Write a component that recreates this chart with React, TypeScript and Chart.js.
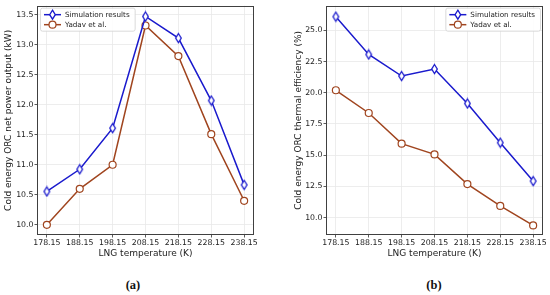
import React, { useEffect, useRef } from 'react';
import { Chart, registerables } from 'chart.js';

Chart.register(...registerables);

const temperatures = [178.15, 188.15, 198.15, 208.15, 218.15, 228.15, 238.15];
const powerSimulation = [10.555, 10.925, 11.61, 13.47, 13.11, 12.07, 10.665];
const powerYadav = [10.0, 10.6, 11.0, 13.32, 12.81, 11.51, 10.4];
const effSimulation = [26.1, 23.07, 21.34, 21.9, 19.14, 16.0, 12.92];
const effYadav = [20.2, 18.38, 15.92, 15.06, 12.68, 10.93, 9.37];
const powerTicks = [10.0, 10.5, 11.0, 11.5, 12.0, 12.5, 13.0, 13.5];
const effTicks = [10.0, 12.5, 15.0, 17.5, 20.0, 22.5, 25.0];
const seriesNames = ['Simulation results', 'Yadav et al.'];
const xTitle = 'LNG temperature (K)';
const powerTitle = 'Cold energy ORC net power output (kW)';
const effTitle = 'Cold energy ORC thermal efficiency (%)';

const BLUE = '#1a1acd';
const BROWN = '#a0451f';
const FONT = "'DejaVu Sans', sans-serif";

function drawDiamond(ctx: CanvasRenderingContext2D, x: number, y: number) {
  ctx.beginPath();
  ctx.moveTo(x, y - 4.5);
  ctx.lineTo(x + 2.8, y);
  ctx.lineTo(x, y + 4.5);
  ctx.lineTo(x - 2.8, y);
  ctx.closePath();
  ctx.fillStyle = '#ffffff';
  ctx.fill();
  ctx.strokeStyle = BLUE;
  ctx.lineWidth = 1.3;
  ctx.stroke();
}

function drawCircle(ctx: CanvasRenderingContext2D, x: number, y: number) {
  ctx.beginPath();
  ctx.arc(x, y, 3.5, 0, Math.PI * 2);
  ctx.fillStyle = '#ffffff';
  ctx.fill();
  ctx.strokeStyle = BROWN;
  ctx.lineWidth = 1.2;
  ctx.stroke();
}

function makeDiamondImage() {
  const c = document.createElement('canvas');
  c.width = 9;
  c.height = 12;
  const ctx = c.getContext('2d')!;
  drawDiamond(ctx, 4.5, 6);
  return c;
}

const framePlugin = {
  id: 'frame',
  afterDatasetsDraw(chart: any) {
    const { ctx, chartArea } = chart;
    ctx.save();
    ctx.strokeStyle = '#404040';
    ctx.lineWidth = 1;
    ctx.strokeRect(
      Math.round(chartArea.left) + 0.5,
      Math.round(chartArea.top) + 0.5,
      Math.round(chartArea.right - chartArea.left) - 1,
      Math.round(chartArea.bottom - chartArea.top) - 1
    );
    ctx.restore();
  },
};

const legendPlugin = {
  id: 'customLegend',
  afterDraw(chart: any, _args: any, opts: any) {
    const { ctx, chartArea } = chart;
    ctx.save();
    ctx.font = `7.2px ${FONT}`;
    const tw = Math.max(...seriesNames.map((n) => ctx.measureText(n).width));
    const w = 4 + 17 + 4 + tw + 5;
    const h = 23;
    const top = chartArea.top + 2;
    const left = opts.side === 'left' ? chartArea.left + 3 : chartArea.right - 3 - w;
    ctx.fillStyle = 'rgba(255,255,255,0.85)';
    ctx.strokeStyle = '#d0d0d0';
    ctx.lineWidth = 0.8;
    ctx.beginPath();
    (ctx as any).roundRect(left + 0.5, top + 0.5, w, h, 2);
    ctx.fill();
    ctx.stroke();
    const colors = [BLUE, BROWN];
    seriesNames.forEach((name, i) => {
      const cy = top + 7 + i * 10;
      const lx = left + 4;
      ctx.strokeStyle = colors[i];
      ctx.lineWidth = 1.5;
      ctx.beginPath();
      ctx.moveTo(lx, cy);
      ctx.lineTo(lx + 17, cy);
      ctx.stroke();
      if (i === 0) drawDiamond(ctx, lx + 8.5, cy);
      else drawCircle(ctx, lx + 8.5, cy);
      ctx.fillStyle = '#222';
      ctx.textBaseline = 'middle';
      ctx.textAlign = 'left';
      ctx.fillText(name, lx + 21, cy + 0.5);
    });
    ctx.restore();
  },
};

interface PanelProps {
  sim: number[];
  yadav: number[];
  yTicks: number[];
  yMin: number;
  yMax: number;
  yTitle: string;
  padLeft: number;
  yWidth: number;
  padRight: number;
  legendSide: string;
}

function Panel(p: PanelProps) {
  const ref = useRef<HTMLCanvasElement>(null);
  useEffect(() => {
    const diamond = makeDiamondImage();
    const chart = new Chart(ref.current!, {
      type: 'line',
      data: {
        datasets: [
          {
            label: seriesNames[0],
            data: temperatures.map((t, i) => ({ x: t, y: p.sim[i] })),
            borderColor: BLUE,
            backgroundColor: '#ffffff',
            borderWidth: 1.5,
            pointStyle: diamond as any,
            pointRadius: 4,
            tension: 0,
          },
          {
            label: seriesNames[1],
            data: temperatures.map((t, i) => ({ x: t, y: p.yadav[i] })),
            borderColor: BROWN,
            backgroundColor: '#ffffff',
            pointBackgroundColor: '#ffffff',
            pointBorderColor: BROWN,
            pointBorderWidth: 1.2,
            borderWidth: 1.5,
            pointStyle: 'circle',
            pointRadius: 3.5,
            tension: 0,
          },
        ],
      },
      options: {
        responsive: false,
        animation: false,
        events: [],
        layout: { padding: { left: p.padLeft, right: p.padRight, top: 4, bottom: 0 } },
        plugins: {
          legend: { display: false },
          tooltip: { enabled: false },
          customLegend: { side: p.legendSide },
        } as any,
        scales: {
          x: {
            type: 'linear',
            min: 175.15,
            max: 241.15,
            afterBuildTicks: (s: any) => {
              s.ticks = temperatures.map((v) => ({ value: v }));
            },
            afterFit: (s: any) => {
              s.height = 33;
            },
            ticks: {
              callback: (v: any) => Number(v).toFixed(2),
              font: { family: FONT, size: 7.8 },
              color: '#222',
              padding: 1,
              maxRotation: 0,
              autoSkip: false,
            },
            grid: { color: '#e8e8e8', lineWidth: 0.8, tickLength: 2.5, tickColor: '#333', tickWidth: 0.8 },
            border: { display: false },
            title: {
              display: true,
              text: xTitle,
              font: { family: FONT, size: 9 },
              color: '#222',
              padding: { top: 8.6, bottom: 8.6 },
            },
          },
          y: {
            type: 'linear',
            min: p.yMin,
            max: p.yMax,
            afterBuildTicks: (s: any) => {
              s.ticks = p.yTicks.map((v) => ({ value: v }));
            },
            afterFit: (s: any) => {
              s.width = p.yWidth;
            },
            ticks: {
              callback: (v: any) => Number(v).toFixed(1),
              font: { family: FONT, size: 7.8 },
              color: '#222',
              padding: 1,
              autoSkip: false,
            },
            grid: { color: '#e8e8e8', lineWidth: 0.8, tickLength: 2.5, tickColor: '#333', tickWidth: 0.8 },
            border: { display: false },
            title: {
              display: true,
              text: p.yTitle,
              font: { family: FONT, size: 9 },
              color: '#222',
              padding: { top: 3, bottom: 3 },
            },
          },
        },
      },
      plugins: [framePlugin, legendPlugin],
    });
    return () => chart.destroy();
  }, []);
  return <canvas ref={ref} width={275} height={268} style={{ display: 'block', width: 275, height: 268 }} />;
}

export default function App() {
  const capStyle: React.CSSProperties = {
    position: 'absolute',
    top: 276,
    width: 40,
    textAlign: 'center',
    fontFamily: "'Liberation Serif', serif",
    fontWeight: 'bold',
    fontSize: 12.5,
    lineHeight: '18px',
    color: '#111',
  };
  return (
    <div style={{ position: 'absolute', left: 0, top: 0, width: 550, height: 295, background: '#fff', overflow: 'hidden' }}>
      <div style={{ position: 'absolute', left: 0, top: 0 }}>
        <Panel
          sim={powerSimulation}
          yadav={powerYadav}
          yTicks={powerTicks}
          yMin={9.83}
          yMax={13.65}
          yTitle={powerTitle}
          padLeft={0}
          yWidth={37}
          padRight={21}
          legendSide="left"
        />
      </div>
      <div style={{ position: 'absolute', left: 275, top: 0 }}>
        <Panel
          sim={effSimulation}
          yadav={effYadav}
          yTicks={effTicks}
          yMin={8.6}
          yMax={26.98}
          yTitle={effTitle}
          padLeft={15}
          yWidth={36}
          padRight={7}
          legendSide="right"
        />
      </div>
      <div style={{ ...capStyle, left: 113 }}>(a)</div>
      <div style={{ ...capStyle, left: 414 }}>(b)</div>
    </div>
  );
}
